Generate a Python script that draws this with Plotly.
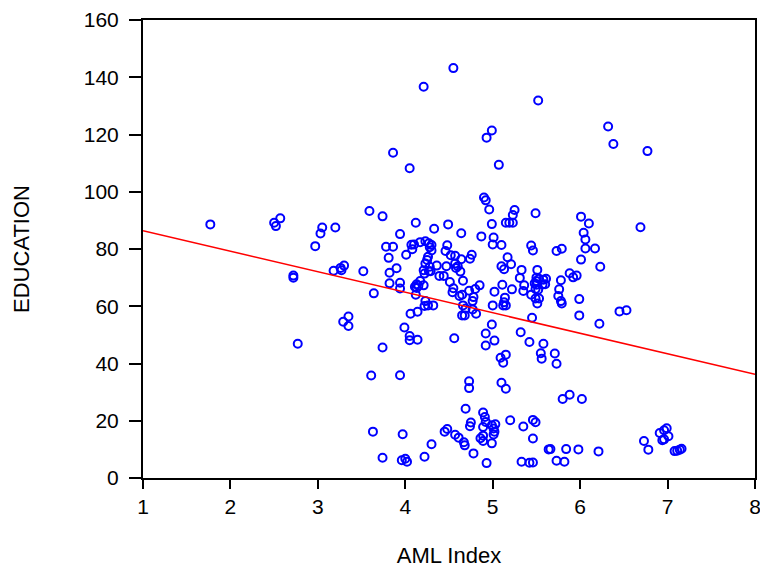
import plotly.graph_objects as go

aml_index = [
    4.55, 4.21, 5.52, 4.99, 4.93, 3.86, 4.05, 5.07, 6.32, 6.38, 6.77,
    1.77, 2.50, 2.57, 2.52, 3.05, 3.03, 3.20, 2.97, 2.72, 2.72, 3.18, 3.26, 3.30, 3.27,
    3.29, 3.35, 3.35, 2.77,
    4.90, 4.92, 4.96, 5.25, 5.23, 5.49, 3.59, 3.74, 4.12, 4.33, 4.49, 4.64, 4.99, 5.15,
    5.19, 5.23, 3.94, 4.87, 5.01, 5.00, 5.10, 5.44, 5.46, 3.78, 3.86, 4.07, 4.10, 4.17,
    4.23, 4.27, 4.30, 4.28, 4.08, 4.30, 4.48, 4.46, 4.01, 3.81, 4.26, 4.25, 4.23, 4.28,
    4.36, 4.52, 4.57, 4.64, 4.76, 4.74, 4.57, 4.60, 4.58, 4.47, 4.63, 4.21, 4.27, 4.22,
    4.29, 3.90, 3.82, 3.52, 4.39, 4.44, 4.51, 4.66, 4.13, 4.11, 4.15, 4.13, 4.21, 4.17,
    3.94, 3.94, 3.82, 3.64, 4.12, 4.55, 4.54, 4.62, 4.65, 4.66, 4.73, 4.80, 4.85, 4.78,
    4.77, 4.69, 4.65, 4.68, 4.81, 4.77, 4.23, 4.26, 4.32, 4.22, 4.06, 4.14, 3.99, 4.99,
    5.11, 5.22, 5.02, 5.14, 5.13, 5.15, 5.12, 5.00, 5.17, 5.21, 5.10, 5.13, 5.33, 5.31,
    5.51, 5.50, 5.36, 5.35, 5.48, 5.50, 5.53, 5.58, 5.57, 5.50, 5.49, 5.52, 5.44, 5.49,
    5.53, 5.51, 5.45,
    6.01, 6.10, 6.69, 6.04, 6.06, 5.73, 5.79, 6.06, 6.17, 6.01, 6.23, 5.88, 5.92, 5.96,
    5.61, 5.60, 5.78, 5.76, 5.75, 5.78, 5.79, 5.99, 5.99, 6.45, 6.53, 6.22,
    4.05, 4.05, 4.14, 3.74, 4.56, 4.92, 5.02, 4.92, 5.32, 5.42, 5.58, 5.55, 5.56, 5.09,
    5.15, 5.12, 3.61, 3.94, 4.73, 4.73, 5.10, 5.15, 4.69, 4.89, 4.91, 5.20, 4.75, 4.74,
    4.92, 4.89, 4.99, 5.03, 5.01, 5.02, 5.01, 5.46, 5.49, 5.35, 5.46, 4.48, 4.45, 4.57,
    4.61, 4.67, 4.68, 4.86, 4.89, 4.89, 4.99, 4.30, 3.63, 3.97, 4.78, 4.22, 3.74, 3.96,
    4.00, 4.02, 4.93, 5.33, 5.42, 5.46, 5.64,
    5.71, 5.73, 5.80, 5.88, 6.02, 5.66, 5.84, 5.98, 6.21, 5.73, 5.82, 6.73, 6.78, 6.91,
    6.96, 6.99, 7.01, 6.94, 6.96, 7.08, 7.11, 7.14, 7.16,
]

education = [
    143.2, 136.7, 131.9, 121.4, 118.9, 113.6, 108.2, 109.4, 122.8, 116.7, 114.2,
    88.6, 89.2, 90.7, 88.0, 87.5, 85.4, 87.5, 81.0, 70.7, 70.0, 72.4, 73.4, 74.2, 72.6,
    54.6, 56.4, 53.1, 46.9,
    98.0, 97.0, 93.8, 93.6, 91.9, 92.5, 93.3, 91.4, 89.2, 87.1, 88.6, 85.5, 88.7, 89.2,
    89.2, 89.2, 85.2, 84.4, 84.0, 81.6, 81.4, 81.2, 79.5, 80.8, 80.8, 81.5, 81.6, 82.4,
    82.7, 82.0, 81.4, 80.6, 79.9, 79.5, 81.3, 79.3, 78.0, 76.9, 77.3, 76.2, 74.9, 73.8,
    74.2, 77.8, 77.6, 76.4, 78.0, 76.6, 74.9, 74.0, 73.4, 74.0, 72.1, 72.6, 72.2, 71.4,
    72.2, 73.3, 71.7, 72.2, 70.6, 70.6, 68.5, 68.9, 67.7, 66.8, 67.2, 66.4, 67.3, 68.8,
    68.2, 66.2, 68.0, 64.5, 64.0, 66.3, 64.9, 63.6, 64.0, 60.3, 65.4, 66.0, 67.3, 63.2,
    61.8, 59.2, 56.8, 56.8, 57.4, 58.9, 61.8, 60.3, 60.3, 60.1, 57.4, 58.1, 52.6, 53.6,
    67.5, 65.9, 65.1, 63.0, 61.4, 60.3, 60.3, 60.3, 77.1, 74.7, 74.0, 72.9, 72.7, 69.9,
    72.7, 70.0, 67.3, 65.3, 68.0, 68.8, 69.6, 69.3, 67.6, 67.5, 66.0, 65.8, 64.0, 62.7,
    62.7, 61.0, 56.0,
    91.3, 88.9, 87.6, 85.7, 83.3, 79.3, 80.1, 80.2, 80.2, 76.3, 73.8, 71.5, 70.1, 70.7,
    69.6, 67.7, 69.1, 65.9, 63.6, 61.8, 61.0, 62.5, 56.8, 58.2, 58.6, 53.9,
    49.6, 48.1, 48.3, 45.6, 48.8, 50.5, 48.0, 46.3, 50.9, 47.5, 46.9, 43.6, 41.7, 42.0,
    43.1, 40.3, 35.8, 35.9, 33.8, 31.4, 33.3, 31.2, 24.2, 22.9, 21.3, 20.2, 19.4, 18.1,
    19.6, 17.8, 18.4, 18.8, 17.3, 16.2, 15.2, 20.3, 19.5, 18.0, 13.8, 17.1, 16.2, 15.1,
    14.1, 12.5, 11.4, 13.9, 14.8, 12.9, 12.1, 11.8, 16.2, 15.3, 8.6, 7.4, 7.1, 6.2,
    6.7, 5.7, 5.2, 5.7, 5.3, 5.4, 10.0,
    43.5, 39.9, 27.6, 29.1, 27.6, 10.1, 10.1, 10.0, 9.3, 6.0, 5.7, 12.9, 9.9, 15.7,
    16.7, 17.4, 14.6, 13.2, 13.5, 9.4, 9.5, 9.9, 10.2,
]

fit_x = [1, 8]
fit_y = [86.4, 36.2]

x_ticks = [1, 2, 3, 4, 5, 6, 7, 8]
y_ticks = [0, 20, 40, 60, 80, 100, 120, 140, 160]

FONT = "Liberation Sans, Arial, sans-serif"

fig = go.Figure()
fig.add_trace(go.Scatter(
    x=aml_index, y=education, mode="markers",
    marker=dict(symbol="circle-open", size=8, color="#0000FF",
                line=dict(width=2, color="#0000FF")),
    showlegend=False, hoverinfo="x+y",
))
fig.add_trace(go.Scatter(
    x=fit_x, y=fit_y, mode="lines",
    line=dict(color="#FF0000", width=1.5),
    showlegend=False,
))

fig.update_layout(
    width=760, height=568,
    margin=dict(l=143, r=5, t=20, b=90, autoexpand=False),
    paper_bgcolor="white", plot_bgcolor="white",
    font=dict(family=FONT, size=20, color="black"),
)
fig.update_xaxes(
    range=[1, 8], tickvals=x_ticks, ticktext=[str(v) for v in x_ticks],
    showgrid=False, zeroline=False, automargin=False,
    showline=True, linecolor="black", linewidth=2, mirror=True,
    ticks="outside", ticklen=9, tickwidth=2, tickcolor="black",
    tickfont=dict(size=21), ticklabeloverflow="allow",
    title=dict(text="AML Index", font=dict(size=22), standoff=30),
)
fig.update_yaxes(
    range=[0, 160], tickvals=y_ticks, ticktext=[str(v) for v in y_ticks],
    showgrid=False, zeroline=False, automargin=False,
    showline=True, linecolor="black", linewidth=2, mirror=True,
    ticks="outside", ticklen=12, tickwidth=2, tickcolor="black",
    tickfont=dict(size=21), ticklabelstandoff=6, ticklabeloverflow="allow",
    title=dict(text="EDUCATION", font=dict(size=22), standoff=48),
)

fig.write_html(
    "out.html",
    config={"displayModeBar": False},
    post_script="document.body.style.margin='0';document.body.style.overflow='hidden';",
)
